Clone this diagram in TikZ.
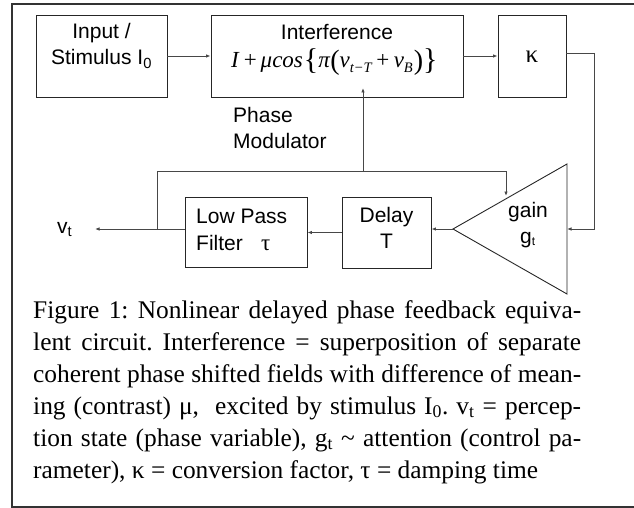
\documentclass[tikz,border=0pt]{standalone}
\usepackage{fontspec}
\setmainfont{Liberation Serif}
\setsansfont{Liberation Sans}
\usetikzlibrary{arrows.meta}
\newcommand\fbr[2]{{\fontsize{#1}{#1}\selectfont\raisebox{-1.5pt}{#2}}}
\newcommand\subsc[1]{\raisebox{-5pt}{\fontsize{14.5}{14.5}\selectfont\itshape #1}}
\begin{document}
\frenchspacing
\begin{tikzpicture}[x=1pt,y=-1pt,
  boxst/.style={draw=black!85,line width=0.9pt,inner sep=0pt},
  lbl/.style={inner sep=0pt,font=\sffamily\fontsize{21}{25}\selectfont},
  captxt/.style={inner sep=0pt,anchor=base west,font=\rmfamily\fontsize{25.4}{32}\selectfont},
  wire/.style={draw=black!72,line width=0.9pt},
  conn/.style={wire,-{Latex[length=4.5pt,width=3.5pt]}}]
\useasboundingbox (0,0) rectangle (634,508);
% frame
\draw[draw=black!80,line width=2pt] (636,4.5) -- (12,4.5) -- (12,506.5) -- (636,506.5);
% boxes
\node[boxst,minimum width=131pt,minimum height=82pt] (in) at (101.5,56) {};
\node[boxst,minimum width=252pt,minimum height=82pt] (interf) at (337,56) {};
\node[boxst,minimum width=68pt,minimum height=82pt] (kappa) at (532,56) {};
\node[boxst,minimum width=89pt,minimum height=71pt] (delay) at (386.5,232.5) {};
\node[boxst,minimum width=122pt,minimum height=70pt] (lpf) at (246,232) {};
% triangle
\coordinate (gT) at (567,164);
\coordinate (gTip) at (453,229);
\coordinate (gB) at (567,294);
\coordinate (gR) at (567,229);
\draw[draw=black!85,line width=0.9pt] (gT) -- (gTip) -- (gB) -- cycle;
% texts
\node[lbl,anchor=base] (t1) at (101.5,39) {Input /};
\node[lbl,anchor=base] (t2) at (101.5,65) {Stimulus I\textsubscript{0}};
\node[lbl,anchor=base] (t3) at (337,40) {Interference};
\node[inner sep=0pt,anchor=base west,font=\rmfamily\fontsize{23}{23}\selectfont] (formula) at (231,68)
  {\textit{I}\kern4pt+\kern4pt\textit{μcos}\kern1pt\fbr{30}{\{}\textit{π}\fbr{28}{(}\textit{v}\subsc{t−T}\kern4.5pt+\kern4.5pt\textit{v}\subsc{B}\kern1pt\fbr{28}{)}\fbr{30}{\}}};
\node[inner sep=0pt,anchor=base,font=\rmfamily\fontsize{25}{25}\selectfont] (k) at (532,63) {κ};
\node[lbl,anchor=base west] (ph1) at (233,123) {Phase};
\node[lbl,anchor=base west] (ph2) at (233,148) {Modulator};
\node[lbl,anchor=base] (d1) at (386.5,222) {Delay};
\node[lbl,anchor=base] (d2) at (386.5,248) {T};
\node[lbl,anchor=base west] (l1) at (196,223) {Low Pass};
\node[lbl,anchor=base west] (l2) at (196,250) {Filter};
\node[inner sep=0pt,anchor=base west,font=\rmfamily\fontsize{23}{23}\selectfont] (tau) at (261,250) {τ};
\node[lbl,anchor=base] (g1) at (528,217) {gain};
\node[lbl,anchor=base west] (g2) at (520,243) {g{\fontsize{12}{12}\selectfont\raisebox{-2pt}{t}}};
\node[lbl,anchor=base west] (vt) at (57,233) {v\textsubscript{t}};
% coordinates
\coordinate (vtip) at (95,229);
\coordinate (jA) at (157,229);
\coordinate (jB) at (157,171);
\coordinate (jC) at (363,171);
\coordinate (jD) at (506,171);
\coordinate (mtip) at (363,88);
\coordinate (gtop) at (506,196);
\coordinate (kR) at (594,53);
% connectors
\draw[conn] (in) -- (interf);
\draw[conn] (interf) -- (kappa);
\draw[wire] (kappa.east |- kR) -- (kR);
\draw[conn] (kR) |- (gR);
\draw[conn] (gTip) -- (gTip -| delay.east);
\draw[conn] (delay.west) -- (delay.west -| lpf.east);
\draw[conn] (lpf.west |- jA) -- (vtip);
\draw[wire] (jA) -- (jB) -- (jD);
\draw[conn] (jD) -- (gtop);
\draw[conn] (jC) -- (mtip);
% caption
\node[captxt] (c1) at (33,318) {\makebox[548pt][s]{Figure 1: Nonlinear delayed phase feedback equiva-}};
\node[captxt] (c2) at (33,350) {\makebox[548pt][s]{lent circuit. Interference = superposition of separate}};
\node[captxt] (c3) at (33,382) {\makebox[548pt][s]{coherent phase shifted fields with difference of mean-}};
\node[captxt] (c4) at (33,414) {\makebox[548pt][s]{ing (contrast) μ,\ \ excited by stimulus I\textsubscript{0}. v\textsubscript{t} = percep-}};
\node[captxt] (c5) at (33,446) {\makebox[548pt][s]{tion state (phase variable), g\textsubscript{t} \textasciitilde{} attention (control pa-}};
\node[captxt] (c6) at (33,478) {rameter), κ = conversion factor, τ = damping time};
\end{tikzpicture}
\end{document}
